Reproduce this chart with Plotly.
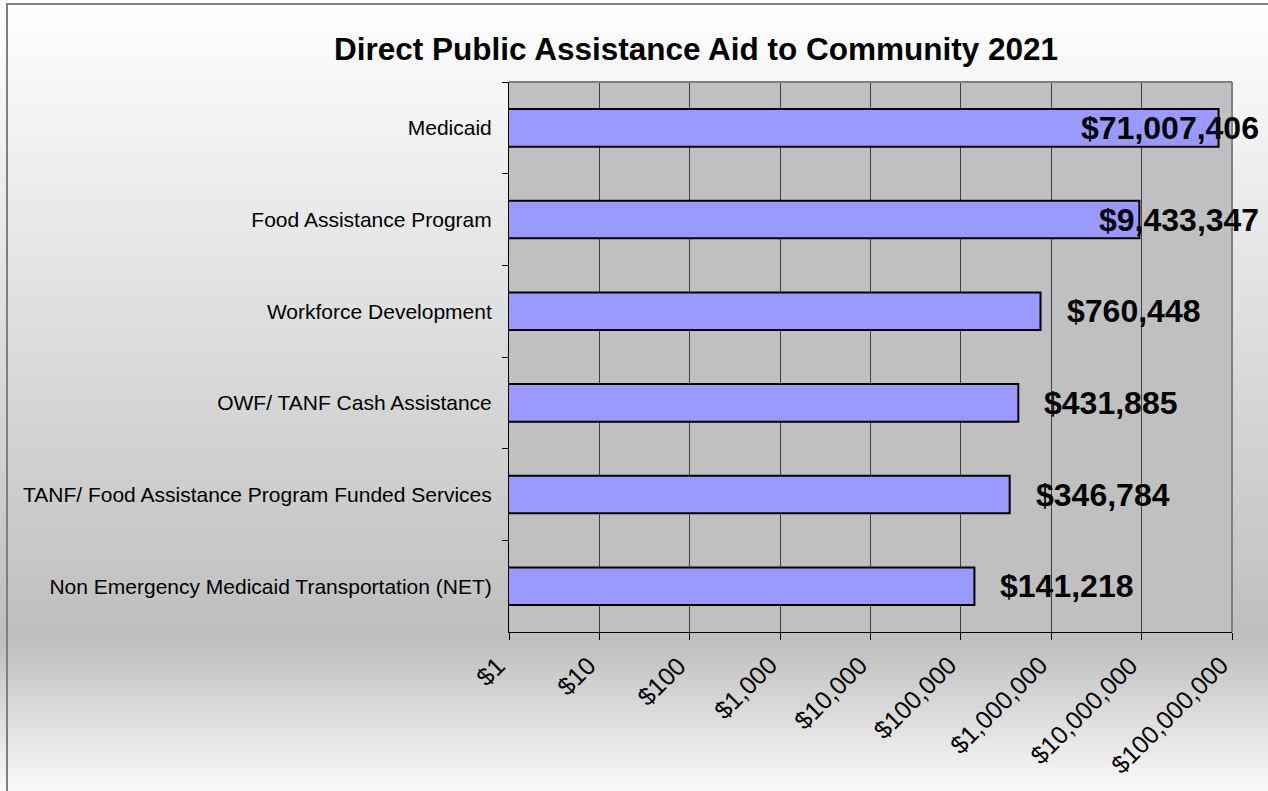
import numpy as np
import plotly.graph_objects as go

# ---------------- data ----------------
categories = [
    "Medicaid",
    "Food Assistance Program",
    "Workforce Development",
    "OWF/ TANF Cash Assistance",
    "TANF/ Food Assistance Program Funded Services",
    "Non Emergency Medicaid Transportation (NET)",
]
values = [71007406, 9433347, 760448, 431885, 346784, 141218]
value_labels = ["$71,007,406", "$9,433,347", "$760,448", "$431,885", "$346,784", "$141,218"]
tick_values = [1, 10, 100, 1000, 10000, 100000, 1000000, 10000000, 100000000]
tick_labels = ["$1", "$10", "$100", "$1,000", "$10,000", "$100,000",
               "$1,000,000", "$10,000,000", "$100,000,000"]
title_text = "Direct Public Assistance Aid to Community 2021"

# ---------------- layout geometry ----------------
W, H = 1268, 791
ML, MR, MT, MB = 509, 36, 82, 159
PW, PH = W - ML - MR, H - MT - MB
FONT = "Arial, 'Liberation Sans', sans-serif"


def px_to_paper_x(px):
    return (px - ML) / PW


def px_to_paper_y(py):
    return 1 - (py - MT) / PH


fig = go.Figure()
fig.add_trace(go.Bar(
    y=categories, x=values, orientation="h",
    marker=dict(color="#9999ff", line=dict(color="black", width=2)),
    width=0.41, showlegend=False, hoverinfo="x+y",
))

shapes = []
# background gradient (white -> gray -> white), drawn as thin stripes
def grad_color(py):
    peak = 640.0
    top_c, mid_c, bot_c = 255, 190, 250
    if py <= peak:
        c = top_c + (mid_c - top_c) * (py / peak)
    else:
        c = mid_c + (bot_c - mid_c) * ((py - peak) / (H - peak))
    c = int(round(c))
    return f"rgb({c},{c},{c})"

step = 4
for y0 in range(0, H, step):
    shapes.append(dict(
        type="rect", xref="paper", yref="paper", layer="below",
        x0=px_to_paper_x(0), x1=px_to_paper_x(W),
        y0=px_to_paper_y(y0 + step), y1=px_to_paper_y(y0),
        fillcolor=grad_color(y0 + step / 2), line=dict(width=0),
    ))
# plot area fill
shapes.append(dict(type="rect", xref="paper", yref="paper", layer="below",
                   x0=0, x1=1, y0=0, y1=1, fillcolor="#c0c0c0", line=dict(width=0)))
# chart outer border (left and top)
shapes.append(dict(type="line", xref="paper", yref="paper",
                   x0=px_to_paper_x(7), x1=px_to_paper_x(7),
                   y0=px_to_paper_y(4), y1=px_to_paper_y(H), line=dict(color="#808080", width=2)))
shapes.append(dict(type="line", xref="paper", yref="paper",
                   x0=px_to_paper_x(6), x1=px_to_paper_x(W),
                   y0=px_to_paper_y(4), y1=px_to_paper_y(4), line=dict(color="#808080", width=2)))
# plot area border (top and right)
shapes.append(dict(type="line", xref="paper", yref="paper", x0=0, x1=1, y0=1, y1=1,
                   line=dict(color="#808080", width=2)))
shapes.append(dict(type="line", xref="paper", yref="paper", x0=1, x1=1, y0=0, y1=1,
                   line=dict(color="#808080", width=2)))

# data labels (outside end, clamped to the right edge of the chart)
LABEL_SIZE = 32
char_w = {"$": 0.556, ",": 0.278}
annotations = []
right_limit = 1261
gap = 24
for cat, v, lab in zip(categories, values, value_labels):
    end_px = ML + np.log10(v) / 8 * PW
    tw = LABEL_SIZE * sum(char_w.get(ch, 0.556) for ch in lab)
    if end_px + gap + tw > right_limit:
        annotations.append(dict(x=px_to_paper_x(right_limit), xref="paper", y=cat, yref="y",
                                text=lab, showarrow=False, xanchor="right",
                                font=dict(family=FONT, size=LABEL_SIZE, color="black", weight="bold")))
    else:
        annotations.append(dict(x=np.log10(v), xref="x", y=cat, yref="y", xshift=gap,
                                text=lab, showarrow=False, xanchor="left",
                                font=dict(family=FONT, size=LABEL_SIZE, color="black", weight="bold")))

# rotated x tick labels
for tv, tt in zip(tick_values, tick_labels):
    annotations.append(dict(x=np.log10(tv), xref="x", y=px_to_paper_y(648), yref="paper",
                            text=tt, textangle=-45, showarrow=False,
                            xanchor="right", yanchor="top", xshift=4,
                            font=dict(family=FONT, size=25, color="black")))

annotations.append(dict(text=title_text, xref="paper", yref="paper",
                        x=px_to_paper_x(696), y=px_to_paper_y(49), xanchor="center", yanchor="middle",
                        showarrow=False,
                        font=dict(family=FONT, size=31.5, color="black", weight="bold")))

fig.update_layout(
    width=W, height=H,
    margin=dict(l=ML, r=MR, t=MT, b=MB, pad=0, autoexpand=False),
    paper_bgcolor="white", plot_bgcolor="#c0c0c0",
    shapes=shapes, annotations=annotations,
    font=dict(family=FONT, color="black"),
)
fig.update_xaxes(
    type="log", range=[0, 8],
    tickvals=tick_values, showticklabels=False,
    ticks="outside", ticklen=7, tickcolor="black", tickwidth=1,
    showline=True, linecolor="black", linewidth=1,
    showgrid=True, gridcolor="#404040", gridwidth=1,
    zeroline=False, automargin=False,
)
fig.update_yaxes(
    type="category", autorange="reversed",
    tickson="boundaries", ticks="outside", ticklen=6, tickcolor="black",
    tickfont=dict(family=FONT, size=21, color="black"),
    showline=True, linecolor="black", linewidth=1,
    showgrid=False, ticklabelstandoff=12, automargin=False,
)

fig.write_html("out.html", config={"displayModeBar": False},
               post_script="document.body.style.margin='0';document.body.style.overflow='hidden';")
